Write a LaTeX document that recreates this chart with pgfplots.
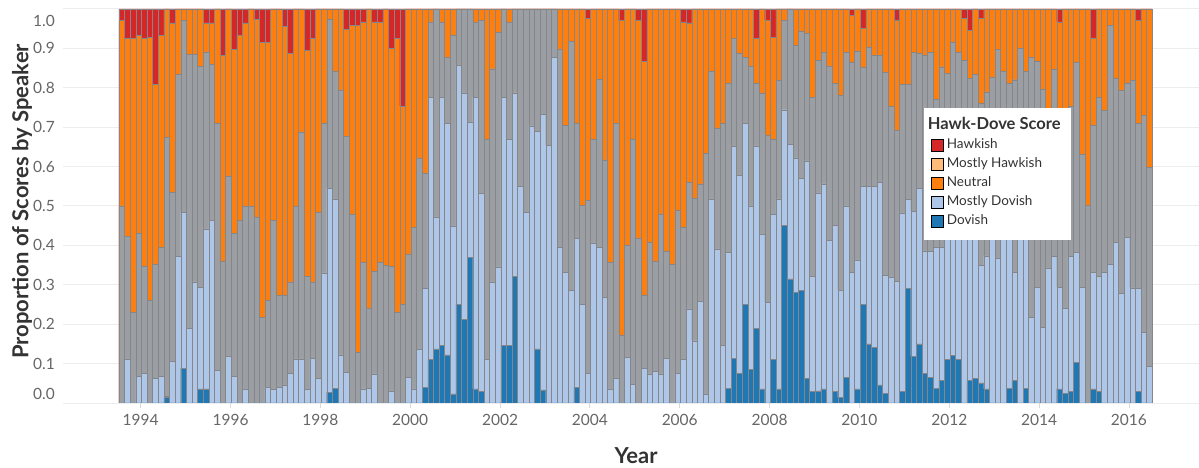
\documentclass[border=0pt]{standalone}
\usepackage{fontspec}
\setmainfont{Lato}
\usepackage{pgfplots}
\usepackage{pgfplotstable}
\pgfplotsset{compat=1.18}

\definecolor{hk}{HTML}{D62728}
\definecolor{mhk}{HTML}{FFBB78}
\definecolor{ne}{HTML}{FF7F0E}
\definecolor{md}{HTML}{AEC7E8}
\definecolor{dv}{HTML}{1F77B4}
\definecolor{nul}{RGB}{155,159,163}
\definecolor{edge}{RGB}{132,134,137}

\pgfplotsset{
  sqleg/.style={legend image code/.code={\fill[##1] (0pt,-5.8pt) rectangle (11.7pt,5.8pt);}},
  seg/.style={ybar, bar width=1, bar shift=0pt, draw=edge, line width=0.4pt, fill=#1},
}

% one row per meeting: i = position, t = total, then the cumulative tops of
% Dovish (d), Mostly Dovish (l), null/grey (g) and Neutral (o); Hawkish fills to 1
\pgfplotstableread{
i t d l g o
1 1 0 0 0.50 0.971
2 1 0 0.112 0.423 0.925
3 1 0 0 0.23 0.925
4 1 0 0.068 0.43 0.933
5 1 0 0.075 0.347 0.925
6 1 0 0 0.26 0.927
7 1 0 0.063 0.353 0.808
8 1 0 0.068 0.394 0.933
9 1 0.014 0.017 0.673 1
10 1 0 0.105 0.535 0.964
11 1 0 0.372 0.834 1
12 1 0.088 0.484 0.971 1
13 1 0 0.19 0.885 1
14 1 0 0.307 0.885 1
15 1 0.036 0.294 0.854 1
16 1 0.036 0.442 0.891 0.964
17 1 0 0.463 0.859 0.964
18 1 0 0.082 0.709 1
19 1 0 0 0.359 0.882
20 1 0 0.119 0.576 1
21 1 0 0.068 0.43 0.897
22 1 0 0 0.463 0.933
23 1 0 0.036 0.5 0.964
24 1 0 0 0.5 1
25 1 0 0 0.472 0.973
26 1 0 0 0.218 0.915
27 1 0 0.04 0.26 0.915
28 1 0 0.034 0.463 1
29 1 0 0.04 0.273 1
30 1 0 0.044 0.273 0.956
31 1 0 0.076 0.307 0.887
32 1 0 0.112 0.5 1
33 1 0 0.112 0.688 1
34 1 0 0.036 0.321 0.895
35 1 0 0.113 0.307 0.925
36 1 0 0.063 0.484 1
37 1 0 0.33 0.709 1
38 1 0.027 0.545 0.973 1
39 1 0.037 0.518 0.842 1
40 1 0 0.122 0.793 1
41 1 0 0.078 0.677 0.948
42 1 0 0 0.478 0.958
43 1 0 0 0.13 0.958
44 1 0 0.036 0.356 0.967
45 1 0 0.037 0.241 1
46 1 0 0.074 0.334 0.967
47 1 0 0 0.357 0.967
48 1 0 0 0.349 1
49 1 0 0.031 0.346 0.9
50 1 0 0 0.23 0.925
51 1 0 0 0.25 0.753
52 1 0 0.065 0.378 1
53 1 0 0.036 0.445 1
54 1 0 0.137 0.622 1
55 1 0.04 0.29 0.584 1
56 1 0.11 0.776 0.967 1
57 1 0.137 0.472 1 1
58 1 0.146 0.776 0.967 1
59 1 0.122 0.709 0.876 1
60 1 0.023 0.449 0.933 1
61 1 0.25 0.857 1 1
62 1 0.213 0.787 1 1
63 1 0.37 0.713 1 1
64 1 0.036 0.776 0.967 1
65 1 0.03 0.531 0.971 1
66 1 0 0.11 0.668 1
67 1 0 0.307 0.848 1
68 1 0 0.345 0.94 1
69 1 0.147 0.776 1 1
70 1 0.147 0.668 0.967 1
71 1 0.321 0.787 1 1
72 1 0 0.55 1 1
73 1 0 0.484 1 1
74 1 0 0.703 1 1
75 1 0.137 0.689 1 1
76 1 0.033 0.732 1 1
77 1 0 0.654 1 1
78 1 0 0.876 1 1
79 1 0 0.394 0.897 1
80 1 0 0.332 0.705 1
81 1 0 0.285 0.918 1
82 1 0.04 0.417 0.709 1
83 1 0 0.25 0.501 1
84 1 0 0.076 0.514 0.975
85 1 0 0.406 0.668 1
86 1 0 0.394 0.821 1
87 1 0 0.268 0.617 1
88 1 0 0.036 0.357 1
89 1 0 0.063 0.709 1
90 1 0 0 0.173 0.97
91 1 0 0.116 0.4 1
92 1 0 0.048 0.668 1
93 1 0 0 0.419 0.971
94 1 0 0.088 0.273 0.867
95 1 0 0.074 0.408 1
96 1 0 0.08 0.36 1
97 1 0 0.074 0.48 1
98 1 0 0.113 0.384 1
99 1 0 0 0.353 1
100 1 0 0.076 0.489 1
101 1 0 0.11 0.445 0.967
102 1 0 0.239 0.56 0.964
103 1 0 0.158 0.52 1
104 1 0 0.257 0.556 1
105 1 0 0.023 0.634 1
106 1 0 0.518 0.842 1
107 1 0 0.391 0.698 1
108 1 0 0.146 0.709 1
109 1 0.037 0.383 0.81 1
110 1 0.114 0.652 0.925 1
111 1 0.076 0.577 0.887 1
112 1 0.25 0.709 0.876 1
113 1 0.086 0.5 0.854 1
114 1 0.19 0.652 0.81 0.925
115 1 0.036 0.429 0.787 1
116 1 0 0.256 0.679 0.971
117 1 0.11 0.478 0.668 0.927
118 1 0.036 0.518 0.819 1
119 1 0.45 0.744 0.971 1
120 1 0.315 0.656 1 1
121 1 0.281 0.622 0.908 1
122 1 0.285 0.569 0.944 1
123 1 0.063 0.614 0.937 1
124 1 0.03 0.321 0.776 1
125 1 0.031 0.533 0.87 1
126 1 0.036 0.556 0.891 1
127 1 0 0.412 0.855 1
128 1 0.03 0.45 0.81 1
129 1 0.014 0.287 0.78 1
130 1 0.065 0.5 0.889 1
131 1 0 0.332 0.865 0.984
132 1 0.036 0.363 0.893 1
133 1 0.25 0.55 0.851 0.95
134 1 0.15 0.55 0.902 1
135 1 0.141 0.55 0.882 1
136 1 0.046 0.56 0.882 1
137 1 0.025 0.323 0.84 1
138 1 0 0.32 0.753 1
139 1 0 0.308 0.692 0.97
140 1 0.03 0.482 0.809 1
141 1 0.29 0.516 0.809 1
142 1 0.118 0.487 0.889 1
143 1 0.15 0.545 0.887 1
144 1 0.076 0.386 0.882 1
145 1 0.065 0.385 0.889 1
146 1 0.037 0.395 0.77 1
147 1 0.058 0.395 0.853 1
148 1 0.11 0.5 0.837 1
149 1 0.12 0.55 0.914 1
150 1 0.11 0.45 0.889 1
151 1 0 0.5 0.87 0.975
152 1 0.057 0.5 0.823 0.946
153 1 0.063 0.55 0.834 1
154 1 0.051 0.349 0.76 0.975
155 1 0.036 0.373 0.789 1
156 1 0 0.45 0.826 1
157 1 0 0.368 0.897 1
158 1 0 0.45 0.842 1
159 1 0.037 0.5 0.81 1
160 1 0.058 0.332 0.82 1
161 1 0 0.55 0.9 1
162 1 0.037 0.55 0.842 1
163 1 0 0.218 0.876 1
164 1 0 0.294 0.867 1
165 1 0 0.192 0.795 1
166 1 0 0.343 0.747 1
167 1 0 0.372 0.846 1
168 1 0.036 0.294 0.7 0.967
169 1 0.025 0.24 0.7 1
170 1 0.03 0.372 0.753 1
171 1 0.103 0.383 0.865 1
172 1 0 0.294 0.631 1
173 1 0 0 0.501 1
174 1 0.036 0.332 0.705 0.926
175 1 0.03 0.321 0.776 1
176 1 0 0.332 0.743 1
177 1 0 0.351 0.958 1
178 1 0 0.408 0.823 1
179 1 0 0.279 0.793 1
180 1 0 0.421 0.81 1
181 1 0 0.292 0.819 1
182 1 0.03 0.29 0.709 0.971
183 1 0 0.18 0.73 1
184 1 0 0.093 0.597 1
}\bars

\begin{document}
\begin{tikzpicture}
  \path[use as bounding box] (-63pt,-65pt) rectangle (1136pt,403pt);
  \begin{axis}[
      at={(0pt,0pt)}, anchor=south west,
      scale only axis,
      width=1136pt, height=403pt,
      xmin=-9.47, xmax=192.84,
      ymin=0, ymax=1.0223,
      enlargelimits=false,
      axis line style={draw=none},
      ymajorgrids, grid style={draw=black!7, line width=0.8pt},
      xtick={4.365,20.365,36.365,52.365,68.365,84.365,100.365,116.365,132.365,148.365,164.365,180.365},
      xticklabels={1994,1996,1998,2000,2002,2004,2006,2008,2010,2012,2014,2016},
      ytick={0,0.1,0.2,0.3,0.4,0.5,0.6,0.7,0.8,0.9,1.0},
      yticklabels={\raisebox{3.5pt}[0pt][0pt]{0.0},0.1,0.2,0.3,0.4,0.5,0.6,0.7,0.8,0.9,\raisebox{-18pt}[0pt][0pt]{1.0}},
      tick align=outside, major tick length=5pt,
      xtick style={draw=black!15, line width=0.8pt},
      ytick style={draw=none},
      /pgf/number format/assume math mode=true,
      ticklabel style={font=\fontsize{15.5}{18}\selectfont, text=black!60},
      yticklabel style={anchor=east, inner sep=0pt, xshift=-3pt},
      xticklabel style={anchor=north, inner sep=0pt, yshift=-6pt},
      every axis y label/.style={at={(axis description cs:-0.0361,0.5)}, rotate=90, anchor=center},
      every axis x label/.style={at={(axis description cs:0.5044,-0.1315)}, anchor=center},
      label style={font=\fontsize{22}{26}\selectfont\bfseries, text=black!80},
      ylabel={Proportion of Scores by Speaker},
      xlabel={Year},
      ybar, bar width=1, bar shift=0pt,
      legend style={at={(0.758,0.7328)}, anchor=north west, draw=none, fill=white,
        inner xsep=7pt, inner ysep=11pt, row sep=4pt,
        font=\fontsize{13.5}{16}\selectfont, text=black!80,
        nodes={inner xsep=3.5pt, inner ysep=1pt, text height=10pt, text depth=3pt}},
      legend cell align=left,
    ]
    \addplot[seg=hk, forget plot] table[x=i, y=t] {\bars};
    \addplot[seg=ne, forget plot] table[x=i, y=o] {\bars};
    \addplot[seg=nul, forget plot] table[x=i, y=g] {\bars};
    \addplot[seg=md, forget plot] table[x=i, y=l] {\bars};
    \addplot[seg=dv, forget plot] table[x=i, y=d] {\bars};
    \draw[black!15, line width=0.8pt] (rel axis cs:0,0) -- (rel axis cs:1,0);

    \addlegendimage{empty legend}
    \addlegendentry{\hspace*{-19pt}\fontsize{16.5}{18}\selectfont\bfseries Hawk-Dove Score}
    \addlegendimage{sqleg, fill=hk}
    \addlegendentry{Hawkish}
    \addlegendimage{sqleg, fill=mhk}
    \addlegendentry{Mostly Hawkish}
    \addlegendimage{sqleg, fill=ne}
    \addlegendentry{Neutral}
    \addlegendimage{sqleg, fill=md}
    \addlegendentry{Mostly Dovish}
    \addlegendimage{sqleg, fill=dv}
    \addlegendentry{Dovish}
  \end{axis}
\end{tikzpicture}
\end{document}
